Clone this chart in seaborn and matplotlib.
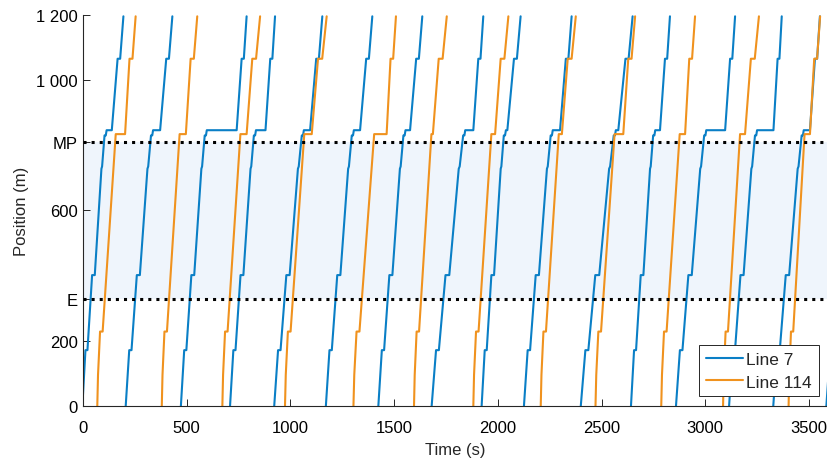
import pandas as pd
import seaborn as sns
import matplotlib.pyplot as plt

# Bus trajectories (times in s)
# Line 7: time at 0 m, arrival at the MP stop, departure from the MP stop, time at the end (1195 m)
l7_start = [-3, 206, 472, 709, 922, 1171, 1424, 1681, 1922, 2126, 2400, 2642, 2859, 3115, 3328, 3584]
l7_mp_arrive = [104, 328, 587, 824, 1055, 1296, 1545, 1833, 2029, 2255, 2559, 2749, 2995, 3240, 3465, 3716]
l7_mp_leave = [139, 372, 741, 880, 1095, 1336, 1577, 1882, 2046, 2300, 2581, 2782, 3096, 3329, 3505, 3756]
l7_end = [195, 431, 789, 926, 1154, 1395, 1636, 1930, 2110, 2356, 2650, 2830, 3144, 3369, 3553, 3816]

# Line 114
l114_start = [69, 380, 672, 974, 1304, 1596, 1882, 2207, 2471, 2788, 3086, 3402]
l114_mp_arrive = [158, 466, 759, 1067, 1404, 1680, 1969, 2294, 2563, 2877, 3168, 3479]
l114_mp_leave = [203, 496, 789, 1103, 1464, 1687, 1987, 2309, 2605, 2903, 3192, 3505]
l114_end = [254, 551, 854, 1175, 1509, 1754, 2051, 2376, 2662, 2951, 3259, 3554]

# stop pattern of each line: positions (m) and share of the leg time
l7_low_pos = [0, 172, 172, 402, 402, 728, 735, 830]
l7_low_frac = [0, 0.14, 0.23, 0.44, 0.56, 0.86, 0.89, 1.0]
l7_mp_pos = [830, 846]
l7_mp_offset = [6, 10]
l7_up_pos = [846, 1065, 1065, 1195]
l7_up_frac = [0, 0.5, 0.72, 1.0]

l114_low_pos = [0, 96, 229, 229, 834]
l114_low_frac = [0, 0.04, 0.15, 0.29, 1.0]
l114_mp_pos = []
l114_mp_offset = []
l114_up_pos = [834, 1065, 1065, 1195]
l114_up_frac = [0, 0.42, 0.70, 1.0]

E_pos = 330
MP_pos = 810
y_ticks = [0, 200, E_pos, 600, MP_pos, 1000, 1200]
y_labels = ['0', '200', 'E', '600', 'MP', '1 000', '1 200']
x_ticks = [0, 500, 1000, 1500, 2000, 2500, 3000, 3500]


def build(name, starts, arrives, leaves, ends, low_pos, low_frac, mp_pos, mp_off, up_pos, up_frac):
    rows = []
    for i in range(len(starts)):
        s, a, d, e = starts[i], arrives[i], leaves[i], ends[i]
        for p, f in zip(low_pos, low_frac):
            rows.append((name, f'{name}-{i}', s + f * (a - s), p))
        for p, o in zip(mp_pos, mp_off):
            rows.append((name, f'{name}-{i}', a + o, p))
        for p, f in zip(up_pos, up_frac):
            rows.append((name, f'{name}-{i}', d + f * (e - d), p))
    return rows


rows = build('Line 7', l7_start, l7_mp_arrive, l7_mp_leave, l7_end,
             l7_low_pos, l7_low_frac, l7_mp_pos, l7_mp_offset, l7_up_pos, l7_up_frac)
rows += build('Line 114', l114_start, l114_mp_arrive, l114_mp_leave, l114_end,
              l114_low_pos, l114_low_frac, l114_mp_pos, l114_mp_offset, l114_up_pos, l114_up_frac)
df = pd.DataFrame(rows, columns=['line', 'bus', 'time', 'pos'])

sns.set_style('ticks')
plt.rcParams['font.family'] = ['Liberation Sans', 'DejaVu Sans']

fig = plt.figure(figsize=(8.28, 4.6), dpi=100)
ax = fig.add_axes([0.1002, 0.1146, 0.8998, 0.8513])

ax.axhspan(E_pos, MP_pos, color='#EFF5FC', zorder=0, lw=0)

sns.lineplot(data=df, x='time', y='pos', hue='line', units='bus', estimator=None,
             sort=False, hue_order=['Line 7', 'Line 114'],
             palette={'Line 7': '#0A7FC6', 'Line 114': '#F0921E'},
             linewidth=1.5, ax=ax, zorder=2)

ax.axhline(E_pos, color='black', ls=':', lw=2.2, zorder=4)
ax.axhline(MP_pos, color='black', ls=':', lw=2.2, zorder=4)

ax.set_xlim(0, 3592)
ax.set_ylim(0, 1200)
ax.set_xticks(x_ticks)
ax.set_yticks(y_ticks)
ax.set_yticklabels(y_labels)
ax.set_xlabel('Time (s)', fontsize=12, labelpad=5)
ax.set_ylabel('Position (m)', fontsize=12, labelpad=5)
ax.tick_params(direction='in', length=5, width=0.7, colors='#262626', labelsize=12,
               labelcolor='black')
ax.tick_params(axis='x', pad=10)
sns.despine(ax=ax)
for sp in ['left', 'bottom']:
    ax.spines[sp].set_color('#262626')
    ax.spines[sp].set_linewidth(0.8)

handles, labels = ax.get_legend_handles_labels()
leg = ax.legend(handles, labels, loc='lower right', bbox_to_anchor=(0.988, 0.025),
                borderaxespad=0, frameon=True, fancybox=False, edgecolor='#262626',
                framealpha=1, handlelength=2.15, fontsize=12.5, borderpad=0.4,
                labelspacing=0.42, handletextpad=0.2)
leg.get_frame().set_linewidth(0.7)

fig.savefig('out.png', dpi=100)
